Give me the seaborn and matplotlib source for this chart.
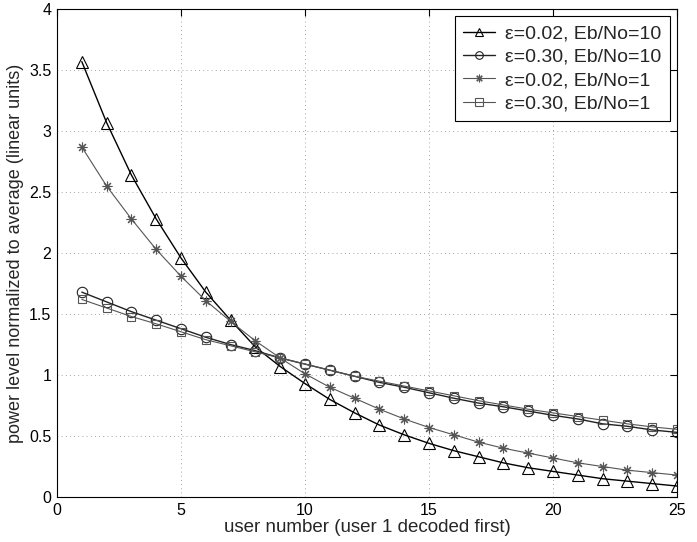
import numpy as np
import pandas as pd
import matplotlib
matplotlib.use("Agg")
import matplotlib.pyplot as plt
from matplotlib.ticker import FormatStrFormatter
import seaborn as sns

users = list(range(1, 26))

eps002_eb10 = [3.57, 3.07, 2.64, 2.28, 1.96, 1.68, 1.45, 1.23, 1.07, 0.93,
               0.80, 0.69, 0.59, 0.51, 0.44, 0.38, 0.33, 0.28, 0.24, 0.21,
               0.18, 0.15, 0.13, 0.11, 0.09]
eps030_eb10 = [1.68, 1.60, 1.52, 1.45, 1.38, 1.31, 1.25, 1.20, 1.14, 1.09,
               1.04, 0.99, 0.94, 0.90, 0.855, 0.81, 0.77, 0.74, 0.705, 0.67,
               0.64, 0.60, 0.58, 0.55, 0.53]
eps002_eb1 = [2.87, 2.55, 2.28, 2.03, 1.81, 1.61, 1.44, 1.28, 1.14, 1.01,
              0.90, 0.81, 0.72, 0.64, 0.57, 0.51, 0.45, 0.40, 0.36, 0.32,
              0.28, 0.25, 0.22, 0.20, 0.18]
eps030_eb1 = [1.62, 1.55, 1.48, 1.42, 1.355, 1.29, 1.24, 1.19, 1.14, 1.09,
              1.04, 0.99, 0.95, 0.91, 0.87, 0.83, 0.79, 0.755, 0.72, 0.69,
              0.66, 0.63, 0.60, 0.575, 0.555]

labels = ["\u03b5=0.02, Eb/No=10", "\u03b5=0.30, Eb/No=10",
          "\u03b5=0.02, Eb/No=1", "\u03b5=0.30, Eb/No=1"]
series = [eps002_eb10, eps030_eb10, eps002_eb1, eps030_eb1]

x_ticks = [0, 5, 10, 15, 20, 25]
y_ticks = [0, 0.5, 1, 1.5, 2, 2.5, 3, 3.5, 4]

sns.set_style("white")
plt.rcParams["font.family"] = ["Liberation Sans", "DejaVu Sans"]

fig = plt.figure(figsize=(6.97, 5.42), dpi=100)
ax = fig.add_axes([0.0818, 0.083, 0.8895, 0.9])

# asterisk marker: eight spokes like a '+' overlaid on an 'x'
asterisk = (8, 2, 0)
styles = [
    dict(marker="^", color="black", lw=1.0, ms=8),
    dict(marker="o", color="#222222", lw=1.0, ms=7.5),
    dict(marker=asterisk, color="#555555", lw=0.8, ms=7),
    dict(marker="s", color="#555555", lw=0.8, ms=6),
]

for vals, lab, st in zip(series, labels, styles):
    df = pd.DataFrame({"user": users, "power": vals})
    sns.lineplot(data=df, x="user", y="power", ax=ax, label=lab,
                 color=st["color"], linewidth=st["lw"], marker=st["marker"],
                 markersize=st["ms"], markerfacecolor="none",
                 markeredgecolor=st["color"], markeredgewidth=0.8)

ax.set_xlim(0, 25)
ax.set_ylim(0, 4)
ax.set_xticks(x_ticks)
ax.set_yticks(y_ticks)
ax.yaxis.set_major_formatter(FormatStrFormatter("%g"))
ax.tick_params(direction="in", top=True, right=True, length=5, pad=4,
               labelsize=11.5, width=0.8, colors="black")
ax.grid(True, linestyle=(0, (1, 4)), color="#888888", linewidth=0.6)
for sp in ax.spines.values():
    sp.set_color("black")
    sp.set_linewidth(0.8)

ax.set_xlabel("user number (user 1 decoded first)", fontsize=13.5, labelpad=1)
ax.set_ylabel("power level normalized to average (linear units)",
              fontsize=13, labelpad=4)

leg = ax.legend(loc="upper right", fontsize=14, frameon=True, fancybox=False,
                borderaxespad=0.35, handlelength=1.65, handletextpad=0.5,
                labelspacing=0.3, borderpad=0.45)
for h in leg.legend_handles:
    h.set_markersize(5.5)
leg.get_frame().set_edgecolor("black")
leg.get_frame().set_linewidth(0.8)
leg.get_frame().set_alpha(1)

fig.savefig("out.png", dpi=100)
